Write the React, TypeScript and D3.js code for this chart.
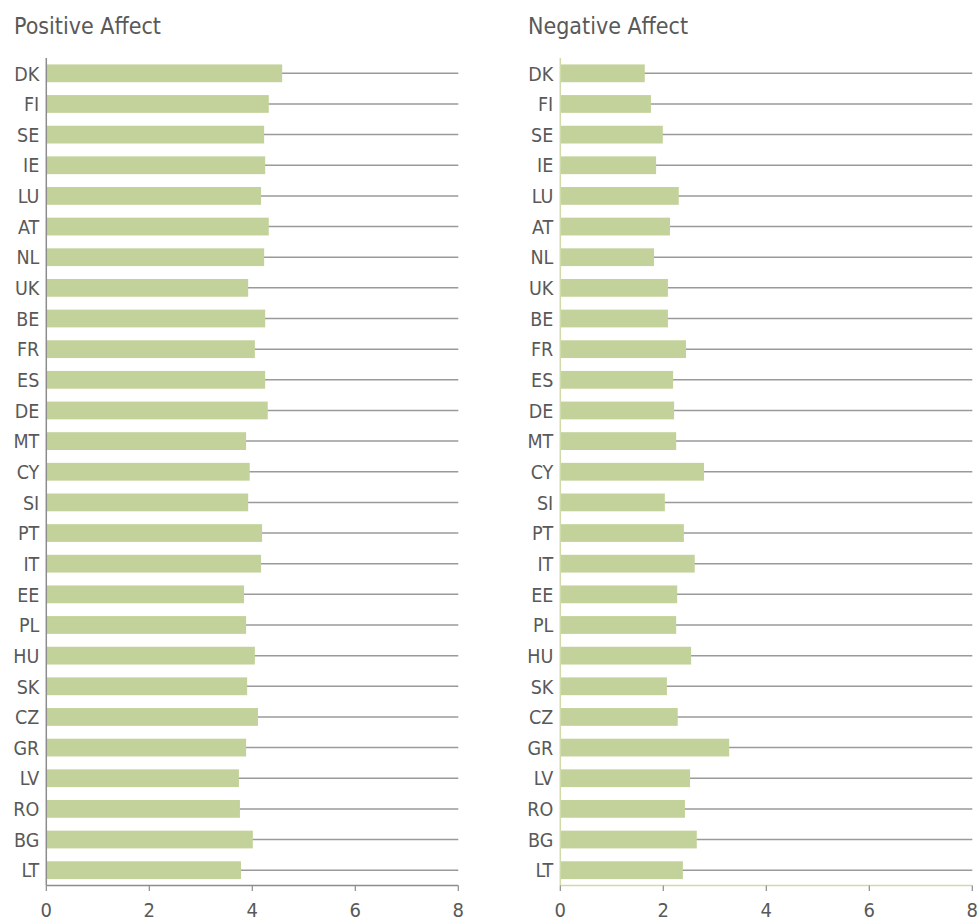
import React, { useEffect, useRef } from "react";
import * as d3 from "d3";

const countries = ["DK","FI","SE","IE","LU","AT","NL","UK","BE","FR","ES","DE","MT","CY","SI","PT","IT","EE","PL","HU","SK","CZ","GR","LV","RO","BG","LT"];
const positiveAffect = [4.58,4.32,4.23,4.25,4.17,4.32,4.23,3.92,4.25,4.05,4.25,4.30,3.88,3.95,3.92,4.19,4.17,3.84,3.88,4.05,3.90,4.11,3.88,3.74,3.76,4.01,3.78];
const negativeAffect = [1.64,1.76,1.99,1.86,2.30,2.13,1.82,2.09,2.09,2.44,2.19,2.21,2.25,2.79,2.03,2.40,2.61,2.27,2.25,2.54,2.07,2.28,3.28,2.52,2.42,2.65,2.38];
const xTicks = [0,2,4,6,8];
const panelTitles = ["Positive Affect","Negative Affect"];

const FONT = "'DejaVu Sans Condensed', 'Liberation Sans Narrow', sans-serif";
const TEXT = "#595959";
const BAR = "#c3d29a";

export default function App() {
  const ref = useRef<SVGSVGElement>(null);
  useEffect(() => {
    const svg = d3.select(ref.current);
    svg.selectAll("*").remove();
    const panels = [
      { title: panelTitles[0], values: positiveAffect, x0: 46.3, titleX: 14, axisColor: "#8c8c8c" },
      { title: panelTitles[1], values: negativeAffect, x0: 560.3, titleX: 528, axisColor: "#cfdba8" },
    ];
    const y = d3.scaleBand<string>().domain(countries).range([58, 885.5]).paddingInner(0.42).paddingOuter(0.21);
    panels.forEach((p) => {
      const g = svg.append("g");
      const x = d3.scaleLinear().domain([0, 8]).range([p.x0, p.x0 + 412]);
      g.append("text").attr("x", p.titleX).attr("y", 34).attr("font-family", FONT)
        .attr("font-size", 23).attr("fill", TEXT).text(p.title);
      // gridlines
      g.selectAll("line.grid").data(countries).join("line").attr("class", "grid")
        .attr("x1", x(0)).attr("x2", x(8))
        .attr("y1", (d) => y(d)! + y.bandwidth() / 2).attr("y2", (d) => y(d)! + y.bandwidth() / 2)
        .attr("stroke", "#9a9a9a").attr("stroke-width", 1.5);
      // bars
      g.selectAll("rect").data(countries).join("rect")
        .attr("x", x(0)).attr("y", (d) => y(d)!)
        .attr("width", (d, i) => x(p.values[i]) - x(0)).attr("height", y.bandwidth())
        .attr("fill", BAR);
      // y axis line
      g.append("line").attr("x1", x(0)).attr("x2", x(0)).attr("y1", 58).attr("y2", 885.5)
        .attr("stroke", p.axisColor).attr("stroke-width", 1.5);
      // labels
      g.selectAll("text.lab").data(countries).join("text").attr("class", "lab")
        .attr("x", x(0) - 7).attr("y", (d) => y(d)! + y.bandwidth() / 2)
        .attr("dy", "0.37em").attr("text-anchor", "end").attr("font-family", FONT)
        .attr("font-size", 19.5).attr("fill", TEXT).text((d) => d);
      // x axis
      g.append("line").attr("x1", x(0)).attr("x2", x(8)).attr("y1", 885.5).attr("y2", 885.5)
        .attr("stroke", p.axisColor).attr("stroke-width", 1.5);
      g.selectAll("line.tick").data(xTicks).join("line").attr("class", "tick")
        .attr("x1", (d) => x(d)).attr("x2", (d) => x(d)).attr("y1", 885.5).attr("y2", 891)
        .attr("stroke", "#8c8c8c").attr("stroke-width", 1.2);
      g.selectAll("text.tl").data(xTicks).join("text").attr("class", "tl")
        .attr("x", (d) => x(d)).attr("y", 917).attr("text-anchor", "middle")
        .attr("font-family", FONT).attr("font-size", 20).attr("fill", TEXT).text((d) => String(d));
    });
  }, []);
  return (
    <svg ref={ref} width={979} height={923} style={{ position: "absolute", left: 0, top: 0, background: "#fff" }} />
  );
}
